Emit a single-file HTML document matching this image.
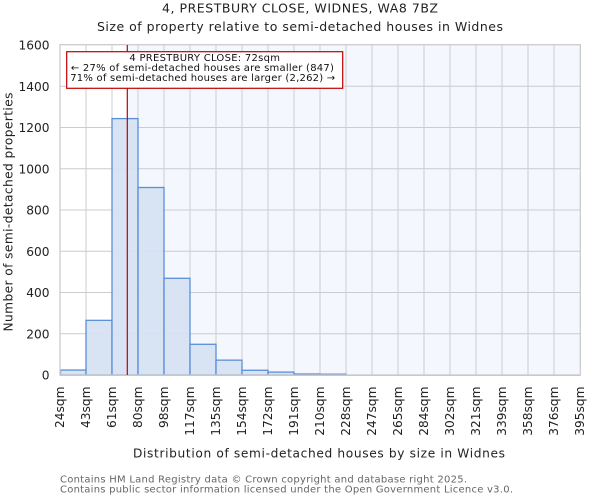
<!DOCTYPE html>
<html>
<head>
<meta charset="utf-8">
<style>
html,body{margin:0;padding:0;background:#fff;}
svg{display:block;}
text{font-family:"DejaVu Sans","Liberation Sans",sans-serif;}
</style>
</head>
<body>
<svg width="600" height="500" viewBox="0 0 600 500" xmlns="http://www.w3.org/2000/svg">
  <rect x="0" y="0" width="600" height="500" fill="#ffffff"/>
  <!-- Titles -->
  <text x="300" y="12.5" font-size="12.5" text-anchor="middle" fill="#222" textLength="276" lengthAdjust="spacing">4, PRESTBURY CLOSE, WIDNES, WA8 7BZ</text>
  <text x="300" y="30.8" font-size="12.5" text-anchor="middle" fill="#222" textLength="406" lengthAdjust="spacing">Size of property relative to semi-detached houses in Widnes</text>

  <!-- plot background -->
  <rect x="60" y="45" width="520" height="330" fill="#ffffff"/>
  <rect x="127.3" y="45" width="452.7" height="330" fill="#f4f7fe"/>

  <!-- grid -->
  <g stroke="#cccccc" stroke-width="1" fill="none">
    <line x1="60" y1="333.75" x2="580" y2="333.75"/>
    <line x1="60" y1="292.5" x2="580" y2="292.5"/>
    <line x1="60" y1="251.25" x2="580" y2="251.25"/>
    <line x1="60" y1="210" x2="580" y2="210"/>
    <line x1="60" y1="168.75" x2="580" y2="168.75"/>
    <line x1="60" y1="127.5" x2="580" y2="127.5"/>
    <line x1="60" y1="86.25" x2="580" y2="86.25"/>
    <line x1="86" y1="45" x2="86" y2="375"/>
    <line x1="112" y1="45" x2="112" y2="375"/>
    <line x1="138" y1="45" x2="138" y2="375"/>
    <line x1="164" y1="45" x2="164" y2="375"/>
    <line x1="190" y1="45" x2="190" y2="375"/>
    <line x1="216" y1="45" x2="216" y2="375"/>
    <line x1="242" y1="45" x2="242" y2="375"/>
    <line x1="268" y1="45" x2="268" y2="375"/>
    <line x1="294" y1="45" x2="294" y2="375"/>
    <line x1="320" y1="45" x2="320" y2="375"/>
    <line x1="346" y1="45" x2="346" y2="375"/>
    <line x1="372" y1="45" x2="372" y2="375"/>
    <line x1="398" y1="45" x2="398" y2="375"/>
    <line x1="424" y1="45" x2="424" y2="375"/>
    <line x1="450" y1="45" x2="450" y2="375"/>
    <line x1="476" y1="45" x2="476" y2="375"/>
    <line x1="502" y1="45" x2="502" y2="375"/>
    <line x1="528" y1="45" x2="528" y2="375"/>
    <line x1="554" y1="45" x2="554" y2="375"/>
  </g>

  <!-- bars -->
  <g fill="#d6e1f3" fill-opacity="0.95" stroke="#5a8fd8" stroke-width="1.3">
    <rect x="60.5" y="370.05" width="25.5" height="4.95"/>
    <rect x="86" y="320.34" width="26" height="54.66"/>
    <rect x="112" y="118.6" width="26" height="256.4"/>
    <rect x="138" y="187.5" width="26" height="187.5"/>
    <rect x="164" y="278.3" width="26" height="96.7"/>
    <rect x="190" y="344.3" width="26" height="30.7"/>
    <rect x="216" y="360.15" width="26" height="14.85"/>
    <rect x="242" y="370.26" width="26" height="4.74"/>
    <rect x="268" y="372.1" width="26" height="2.9"/>
    <rect x="294" y="374" width="26" height="1"/>
    <rect x="320" y="374.2" width="26" height="0.8"/>
  </g>

  <!-- spines -->
  <rect x="60" y="44.7" width="520.3" height="330.3" fill="none" stroke="#cccccc" stroke-width="1.3"/>
  <line x1="60" y1="375.3" x2="580.3" y2="375.3" stroke="#c8c8c8" stroke-width="1.5"/>

  <!-- red marker line -->
  <line x1="127.3" y1="45" x2="127.3" y2="375" stroke="#c00000" stroke-width="1.2"/>

  <!-- annotation -->
  <rect x="66.7" y="51.7" width="276" height="36.6" fill="#ffffff" stroke="#c00000" stroke-width="1.2"/>
  <g font-size="10" fill="#111" text-anchor="middle">
    <text x="204.7" y="60.8" textLength="150.6" lengthAdjust="spacing">4 PRESTBURY CLOSE: 72sqm</text>
    <text x="202.4" y="70.8" textLength="263" lengthAdjust="spacing">← 27% of semi-detached houses are smaller (847)</text>
    <text x="202.7" y="80.8" textLength="265" lengthAdjust="spacing">71% of semi-detached houses are larger (2,262) →</text>
  </g>

  <!-- y ticks -->
  <g font-size="12.2" fill="#222" text-anchor="end">
    <text x="49.5" y="379.5">0</text>
    <text x="49.5" y="338.25">200</text>
    <text x="49.5" y="297">400</text>
    <text x="49.5" y="255.75">600</text>
    <text x="49.5" y="214.5">800</text>
    <text x="49.5" y="173.25">1000</text>
    <text x="49.5" y="132">1200</text>
    <text x="49.5" y="90.75">1400</text>
    <text x="49.5" y="49.5">1600</text>
  </g>

  <!-- y label -->
  <text transform="translate(12.5,212) rotate(-90)" font-size="12.2" fill="#222" text-anchor="middle" textLength="239" lengthAdjust="spacing">Number of semi-detached properties</text>

  <!-- x ticks -->
  <g font-size="12.2" fill="#222" text-anchor="end">
    <text transform="translate(64.2,386.5) rotate(-90)">24sqm</text>
    <text transform="translate(90.2,386.5) rotate(-90)">43sqm</text>
    <text transform="translate(116.2,386.5) rotate(-90)">61sqm</text>
    <text transform="translate(142.2,386.5) rotate(-90)">80sqm</text>
    <text transform="translate(168.2,386.5) rotate(-90)">98sqm</text>
    <text transform="translate(194.2,386.5) rotate(-90)">117sqm</text>
    <text transform="translate(220.2,386.5) rotate(-90)">135sqm</text>
    <text transform="translate(246.2,386.5) rotate(-90)">154sqm</text>
    <text transform="translate(272.2,386.5) rotate(-90)">172sqm</text>
    <text transform="translate(298.2,386.5) rotate(-90)">191sqm</text>
    <text transform="translate(324.2,386.5) rotate(-90)">210sqm</text>
    <text transform="translate(350.2,386.5) rotate(-90)">228sqm</text>
    <text transform="translate(376.2,386.5) rotate(-90)">247sqm</text>
    <text transform="translate(402.2,386.5) rotate(-90)">265sqm</text>
    <text transform="translate(428.2,386.5) rotate(-90)">284sqm</text>
    <text transform="translate(454.2,386.5) rotate(-90)">302sqm</text>
    <text transform="translate(480.2,386.5) rotate(-90)">321sqm</text>
    <text transform="translate(506.2,386.5) rotate(-90)">339sqm</text>
    <text transform="translate(532.2,386.5) rotate(-90)">358sqm</text>
    <text transform="translate(558.2,386.5) rotate(-90)">376sqm</text>
    <text transform="translate(584.2,386.5) rotate(-90)">395sqm</text>
  </g>

  <!-- x label -->
  <text x="319" y="457.3" font-size="12.2" fill="#222" text-anchor="middle" textLength="372" lengthAdjust="spacing">Distribution of semi-detached houses by size in Widnes</text>

  <!-- footer -->
  <g font-size="10" fill="#666">
    <text x="60" y="482.7" textLength="407" lengthAdjust="spacing">Contains HM Land Registry data © Crown copyright and database right 2025.</text>
    <text x="60" y="492.7" textLength="453" lengthAdjust="spacing">Contains public sector information licensed under the Open Government Licence v3.0.</text>
  </g>
</svg>
</body>
</html>
